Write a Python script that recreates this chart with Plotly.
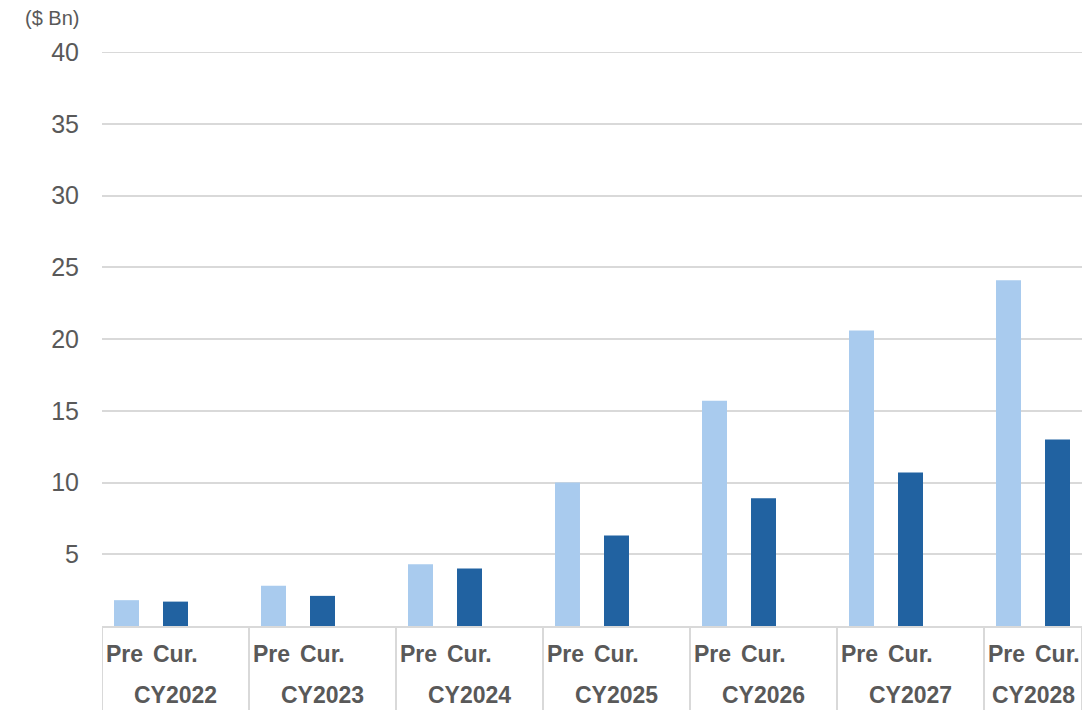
import plotly.graph_objects as go

# Calendar years and the two estimates per year ($ Bn)
years = ["CY2022", "CY2023", "CY2024", "CY2025", "CY2026", "CY2027", "CY2028"]
pre_values = [1.8, 2.8, 4.3, 10.0, 15.7, 20.6, 24.1]
cur_values = [1.7, 2.1, 4.0, 6.3, 8.9, 10.7, 13.0]
series_labels = ["Pre", "Cur."]
y_ticks = [5, 10, 15, 20, 25, 30, 35, 40]

LIGHT = "#A9CBEE"
DARK = "#2162A1"
TEXT = "#595959"
GRID = "#D9D9D9"
FONT = "Liberation Sans, Arial, sans-serif"

# Each year occupies three slots (Pre, Cur., gap); the final year has no gap slot
slots_per_group = 3
n_slots = slots_per_group * (len(years) - 1) + 2
pre_x = [slots_per_group * i for i in range(len(years))]
cur_x = [slots_per_group * i + 1 for i in range(len(years))]

fig = go.Figure()
fig.add_trace(go.Bar(x=pre_x, y=pre_values, width=0.51, marker_color=LIGHT,
                     marker_line_width=0, name="Pre"))
fig.add_trace(go.Bar(x=cur_x, y=cur_values, width=0.51, marker_color=DARK,
                     marker_line_width=0, name="Cur."))

annotations = []
shapes = []
bottom = -84 / 574
for i, yr in enumerate(years):
    for j, lab in enumerate(series_labels):
        annotations.append(dict(
            x=slots_per_group * i + j, y=0, xref="x", yref="paper",
            text=f"<b>{lab}</b>", showarrow=False, yanchor="middle",
            yshift=-28, xshift=-2 if j == 0 else 0,
            font=dict(family=FONT, size=23, color=TEXT)))
    start = slots_per_group * i - 0.5
    end = min(start + slots_per_group, n_slots - 0.5)
    annotations.append(dict(
        x=(start + end) / 2, y=0, xref="x", yref="paper",
        text=f"<b>{yr}</b>", showarrow=False, yanchor="middle",
        yshift=-69, font=dict(family=FONT, size=23, color=TEXT)))

# Group dividers below the category axis
dividers = [slots_per_group * i - 0.5 for i in range(len(years))] + [n_slots - 0.5]
for d in dividers:
    shapes.append(dict(type="line", xref="x", yref="paper", x0=d, x1=d,
                       y0=0, y1=bottom, line=dict(color=GRID, width=2)))

# Gridline at the top of the value range (Plotly skips it at the edge)
shapes.append(dict(type="line", xref="paper", yref="y", x0=0, x1=1,
                   y0=max(y_ticks), y1=max(y_ticks), layer="below",
                   line=dict(color=GRID, width=2)))

annotations.append(dict(
    x=-0.015, y=1.0, xref="paper", yref="paper", text="($ Bn)",
    showarrow=False, xanchor="right", yanchor="middle", yshift=34,
    xshift=-6, font=dict(family=FONT, size=20, color=TEXT)))

fig.update_layout(
    width=1089, height=710,
    margin=dict(l=102, r=7, t=52, b=84),
    paper_bgcolor="white", plot_bgcolor="white",
    showlegend=False, barmode="overlay",
    annotations=annotations, shapes=shapes,
    xaxis=dict(range=[-0.5, n_slots - 0.5], showticklabels=False,
               showgrid=False, zeroline=False, showline=True,
               linecolor=GRID, linewidth=2, ticks=""),
    yaxis=dict(range=[0, max(y_ticks)], tickvals=y_ticks, showgrid=True,
               gridcolor=GRID, gridwidth=2, zeroline=False, showline=False,
               ticks="", ticklabelstandoff=22,
               tickfont=dict(family=FONT, size=25, color=TEXT)),
)

fig.write_html("out.html")
